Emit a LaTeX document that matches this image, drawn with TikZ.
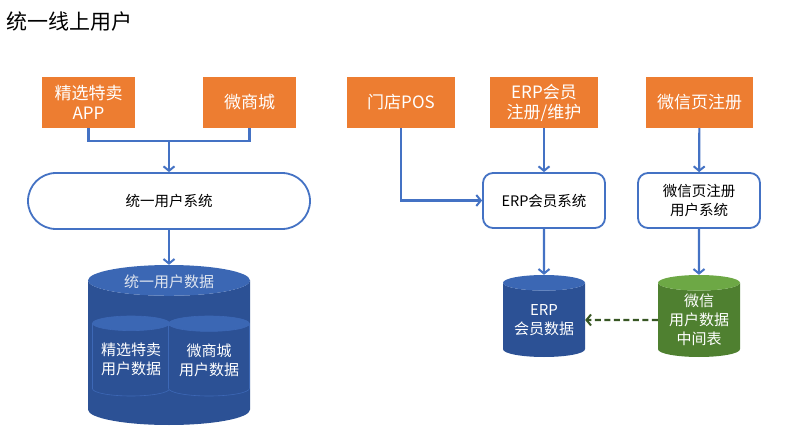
\documentclass[tikz,border=0pt]{standalone}
\usepackage{fontspec}
\setmainfont{Noto Sans CJK SC}
\usetikzlibrary{arrows.meta,shapes.geometric,positioning}

\definecolor{boxorange}{HTML}{ED7D31}
\definecolor{lineblue}{HTML}{4472C4}
\definecolor{dbblue}{HTML}{2C5195}
\definecolor{dbbluetop}{HTML}{3B67B4}
\definecolor{dbgreen}{HTML}{4F8030}
\definecolor{dbgreentop}{HTML}{6DA845}
\definecolor{dashgreen}{HTML}{375623}

\begin{document}
\begin{tikzpicture}[
		x=1pt, y=-1pt,
		>={Straight Barb[length=4.5pt,width=11pt,line width=2pt]},
		SrcBox/.style={fill=boxorange, text=white, minimum width=93pt,
			minimum height=51pt, align=center, inner sep=2pt,
			font=\fontsize{17}{20}\selectfont},
		SysBox/.style={draw=lineblue, line width=1.8pt, fill=white,
			minimum width=122pt, minimum height=55pt, rounded corners=10pt,
			align=center, font=\fontsize{14.5}{19}\selectfont},
		DbCyl/.style={cylinder, shape border rotate=90, inner sep=0pt,
			anchor=shape center,
			cylinder uses custom fill, cylinder body fill=dbblue,
			cylinder end fill=dbbluetop, text=white, align=center,
			text width=80pt, aspect=0.19,
			font=\fontsize{15}{19}\selectfont},
		Link/.style={draw=lineblue, line width=2.2pt},
		]
		\useasboundingbox [fill=white] (0,0) rectangle (788,444);
		\node [anchor=west, font=\fontsize{21}{24}\selectfont] (title) at (3,22) {统一线上用户};
		
		% sources
		\node [SrcBox] (app) at (88.5,102.5) {精选特卖\\APP};
		\node [SrcBox] (wsc) at (249.5,102.5) {微商城};
		\node [SrcBox, minimum width=108pt] (pos) at (401,102.5) {门店POS};
		\node [SrcBox, minimum width=108pt] (erpreg) at (544,102.5) {ERP会员\\注册/维护};
		\node [SrcBox, minimum width=107pt] (wxreg) at (699.5,102.5) {微信页注册};
		
		% systems
		\node [SysBox, minimum width=282pt, minimum height=56pt,
			rounded corners=28pt] (usys) at (169,201) {统一用户系统};
		\node [SysBox] (erpsys) at (544,200.5) {ERP会员系统};
		\node [SysBox] (wxsys) at (699,200.5) {微信页注册\\用户系统};
		
		% data
		\node [DbCyl, text width=162pt, minimum height=160pt] (udata) at (169,345) {};
		\node [text=white!85!dbblue, font=\fontsize{15}{18}\selectfont] (udatalbl) at (169,282) {统一用户数据};
		\node [DbCyl, draw=lineblue!70!dbblue, line width=0.6pt, text width=77pt,
			minimum height=80pt] (appdata) at (131,356) {精选特卖\\用户数据};
		\node [DbCyl, draw=lineblue!70!dbblue, line width=0.6pt, text width=81pt,
			minimum height=80pt] (wscdata) at (209,356) {微商城\\用户数据};
		\node [DbCyl, text width=82pt, minimum height=82pt] (erpdata) at (544,316) {ERP\\会员数据};
		\node [DbCyl, cylinder body fill=dbgreen, cylinder end fill=dbgreentop,
			text width=82pt, minimum height=82pt] (wxdata) at (699,316) {微信\\用户数据\\中间表};
		
		% links
		\coordinate (join) at (169,141);
		\draw [Link] (app.south) |- (join) -| (wsc.south);
		\draw [Link, ->] (join) -- (usys.north);
		\draw [Link, ->] (usys.south) -- (udata.north);
		\draw [Link, ->] (pos.south) |- (erpsys.west);
		\draw [Link, ->] (erpreg) -- (erpsys);
		\draw [Link, ->] (wxreg) -- (wxsys);
		\draw [Link, ->] (erpsys) -- (erpdata);
		\draw [Link, ->] (wxsys) -- (wxdata);
		\draw [draw=dashgreen, line width=2.2pt, dash pattern=on 6pt off 3.5pt, ->] (wxdata.west) -- (erpdata.east);
		
	\end{tikzpicture}
\end{document}
